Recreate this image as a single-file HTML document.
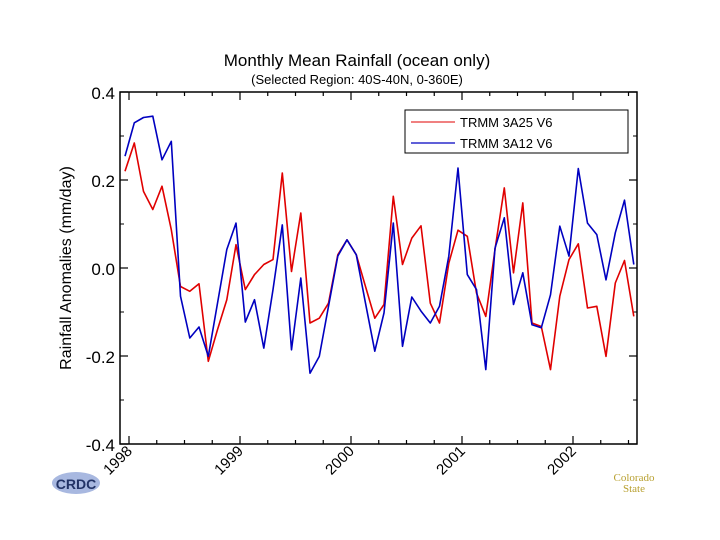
<!DOCTYPE html>
<html><head><meta charset="utf-8"><style>
body{margin:0;background:#fff;}
svg{display:block;font-family:"Liberation Sans",sans-serif;}
</style></head><body>
<svg width="720" height="540" viewBox="0 0 720 540">
<text x="357" y="66" font-size="17" text-anchor="middle">Monthly Mean Rainfall (ocean only)</text>
<text x="357" y="84" font-size="13" text-anchor="middle">(Selected Region: 40S-40N, 0-360E)</text>
<text transform="translate(71,268) rotate(-90)" font-size="16" text-anchor="middle">Rainfall Anomalies (mm/day)</text>
<rect x="120" y="92" width="517" height="352" fill="none" stroke="#000" stroke-width="1.5"/>
<g id="ticks"></g>
<g id="series"></g>
<g>
<rect x="405" y="110" width="223" height="43" fill="#fff" stroke="#000" stroke-width="1"/>
<line x1="411" y1="122" x2="455" y2="122" stroke="#e00000" stroke-width="1"/>
<text x="460" y="127" font-size="13">TRMM 3A25 V6</text>
<line x1="411" y1="143" x2="455" y2="143" stroke="#0000c0" stroke-width="1.2"/>
<text x="460" y="148" font-size="13">TRMM 3A12 V6</text>
</g>
<g>
<ellipse cx="76" cy="483" rx="24" ry="11" fill="#a8b8e0"/>
<text x="76" y="489" font-size="14" font-weight="bold" text-anchor="middle" fill="#223366">CRDC</text>
</g>
<g>
<text x="634" y="481" font-size="11" text-anchor="middle" fill="#b8a030" font-family="Liberation Serif,serif">Colorado</text>
<text x="634" y="492" font-size="11" text-anchor="middle" fill="#b8a030" font-family="Liberation Serif,serif">State</text>
</g>
</svg>
<script>
const years = ["1998","1999","2000","2001","2002"];
const yTicks = [0.4,0.2,0.0,-0.2,-0.4];
const yTickLabels = ["0.4","0.2","0.0","-0.2","-0.4"];
const red3a25 = [0.220,0.284,0.174,0.133,0.186,0.087,-0.042,-0.053,-0.036,-0.212,-0.140,-0.072,0.053,-0.049,-0.015,0.008,0.019,0.216,-0.008,0.125,-0.125,-0.114,-0.080,0.030,0.064,0.030,-0.042,-0.114,-0.083,0.163,0.008,0.068,0.096,-0.080,-0.125,0.011,0.086,0.072,-0.057,-0.110,0.042,0.182,-0.011,0.148,-0.125,-0.133,-0.231,-0.064,0.019,0.055,-0.091,-0.087,-0.201,-0.034,0.017,-0.110];
const blue3a12 = [0.254,0.330,0.342,0.345,0.246,0.288,-0.064,-0.159,-0.134,-0.201,-0.080,0.042,0.102,-0.123,-0.072,-0.182,-0.049,0.098,-0.186,-0.023,-0.239,-0.201,-0.087,0.027,0.064,0.030,-0.080,-0.189,-0.102,0.102,-0.178,-0.066,-0.098,-0.125,-0.087,0.027,0.227,-0.015,-0.049,-0.231,0.045,0.114,-0.083,-0.011,-0.129,-0.136,-0.061,0.095,0.027,0.226,0.102,0.076,-0.027,0.080,0.154,0.008];
const NS="http://www.w3.org/2000/svg";
const xM = i => 125 + i*9.25;
const yV = v => 268 - v*440;
const xYear = k => 129 + k*111;
const tg = document.getElementById('ticks');
function mk(tag, attrs, parent){const e=document.createElementNS(NS,tag);for(const k in attrs)e.setAttribute(k,attrs[k]);parent.appendChild(e);return e;}
// y ticks
for(let j=0;j<yTicks.length;j++){
  const y=yV(yTicks[j]);
  mk('line',{x1:120,y1:y,x2:128,y2:y,stroke:'#000','stroke-width':1.2},tg);
  mk('line',{x1:629,y1:y,x2:637,y2:y,stroke:'#000','stroke-width':1.2},tg);
  const t=mk('text',{x:115,y:y+7,'font-size':17,'text-anchor':'end'},tg);
  t.textContent=yTickLabels[j];
  
  
  if(j<yTicks.length-1){
    const ym=yV((yTicks[j]+yTicks[j+1])/2);
    mk('line',{x1:120,y1:ym,x2:124,y2:ym,stroke:'#000'},tg);
    mk('line',{x1:633,y1:ym,x2:637,y2:ym,stroke:'#000'},tg);
  }
}
// x ticks
for(let q=0;q<19;q++){
  const x=129+q*111/4;
  const major=q%4===0;
  const len=major?8:4;
  mk('line',{x1:x,y1:444,x2:x,y2:444-len,stroke:'#000','stroke-width':1.2},tg);
  mk('line',{x1:x,y1:92,x2:x,y2:92+len,stroke:'#000','stroke-width':1.2},tg);
}
for(let k=0;k<years.length;k++){
  const x=xYear(k);
  const t=mk('text',{transform:`translate(${x+4},${452}) rotate(-45)`,'font-size':15,'text-anchor':'end'},tg);
  t.textContent=years[k];
  
  
}
const sg=document.getElementById('series');
function line(data,color,name){
  const p=mk('polyline',{points:data.map((v,i)=>xM(i).toFixed(1)+','+yV(v).toFixed(1)).join(' '),fill:'none',stroke:color,'stroke-width':1.6,'stroke-linejoin':'round'},sg);
  
  
}
line(red3a25,'#e00000','series-3a25');
line(blue3a12,'#0000c0','series-3a12');
</script>
</body></html>
